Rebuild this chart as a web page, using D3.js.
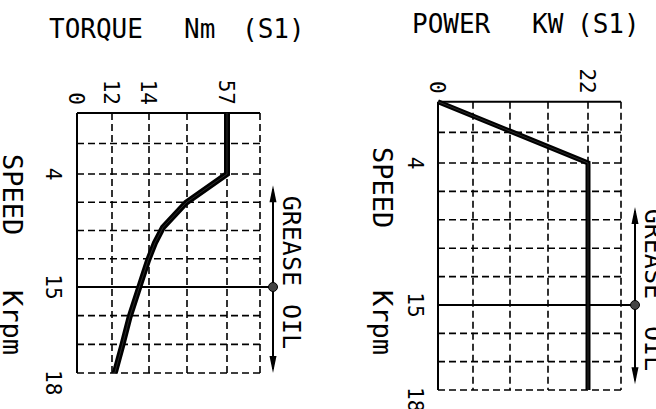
<!DOCTYPE html>
<html>
<head>
<meta charset="utf-8">
<script src="https://cdn.jsdelivr.net/npm/d3@7"></script>
<style>
body { margin: 0; background: #fff; }
svg { display: block; background: #fff; }
text { font-family: "DejaVu Sans Mono", "Liberation Mono", monospace; fill: #000; }
</style>
</head>
<body>
<svg id="chart" width="656" height="409"></svg>
<script>
// speed axis (Krpm), break points used by both panels
var speedTicks = [0, 4, 15, 18];
var speedLabels = [4, 15, 18];

// torque panel (Nm)
var torqueTicks = [0, 12, 14, 57];
var torqueSpeed = [0, 4, 6.8, 9.2, 10.7, 12.4, 14.6, 16.05, 17.05, 18];
var torqueValues = [57, 57, 34.4, 21.7, 17.3, 13.95, 13.55, 12.95, 12.55, 12.15];

// power panel (KW)
var powerTicks = [0, 22];
var powerSpeed = [0, 4, 18];
var powerValues = [0, 22, 22];

// grease / oil limit and arrow span (Krpm)
var greaseLimit = 15;
var torqueArrow = [5.1, 18];
var powerArrow = [7.4, 17.8];

var svg = d3.select("#chart");

// grid columns, same on both panels
var colOffsets = [0, 35, 72, 110, 150, 183];

drawPanel({
	x0: 77, w: 183,
	yRange: [113, 174, 287, 373],
	ticks: torqueTicks, tickOffsets: [0, 35, 72, 150],
	rows: [2, 4, 3],
	speed: torqueSpeed, vals: torqueValues, lineW: 6,
	arrow: torqueArrow, arrowX: 273,
	title: [["TORQUE", 49], ["Nm", 184], ["(S1)", 242]], titleY: 38,
	speedTitleX: 3, speedTitleY: [154, 290], speedLabelX: 46,
	greaseGap: [1, 17]
});

drawPanel({
	x0: 438, w: 183,
	yRange: [101.7, 163, 305, 390],
	ticks: powerTicks, tickOffsets: [0, 150],
	rows: [2, 5, 3],
	speed: powerSpeed, vals: powerValues, lineW: 5,
	arrow: powerArrow, arrowX: 635,
	title: [["POWER", 412], ["KW", 532], ["(S1)", 577]], titleY: 33,
	speedTitleX: 373, speedTitleY: [147, 290], speedLabelX: 408,
	greaseGap: [6, 21]
});

function rotText(g, x, y, str, anchor, size)
{
	return g.append("text")
		.attr("transform", "translate(" + x + "," + y + ") rotate(90)")
		.attr("text-anchor", anchor)
		.attr("font-size", size)
		.text(str);
}

function drawPanel(p)
{
	var g = svg.append("g");

	var y = d3.scaleLinear().domain(speedTicks).range(p.yRange);
	var x = d3.scaleLinear().domain(p.ticks)
		.range(p.tickOffsets.map(function(o) { return p.x0 + o; }));

	var top = y(0), bottom = y(18);

	// dashed rows: each speed segment split evenly
	var rowSpeeds = [];
	p.rows.forEach(function(n, i) {
		var a = speedTicks[i], b = speedTicks[i + 1];
		d3.range(1, n + 1).forEach(function(k) { rowSpeeds.push(a + (b - a) * k / n); });
	});

	g.selectAll(".row").data(rowSpeeds).enter().append("line")
		.attr("x1", p.x0).attr("x2", p.x0 + p.w)
		.attr("y1", y).attr("y2", y)
		.attr("stroke", "#000").attr("stroke-width", 1.6)
		.attr("stroke-dasharray", "7,4");

	g.selectAll(".col").data(colOffsets.slice(1)).enter().append("line")
		.attr("x1", function(d) { return p.x0 + d; })
		.attr("x2", function(d) { return p.x0 + d; })
		.attr("y1", top).attr("y2", bottom)
		.attr("stroke", "#000").attr("stroke-width", 1.6)
		.attr("stroke-dasharray", "7,4");

	// solid frame edges
	g.append("line").attr("x1", p.x0).attr("x2", p.x0 + p.w)
		.attr("y1", top).attr("y2", top)
		.attr("stroke", "#000").attr("stroke-width", 2);
	g.append("line").attr("x1", p.x0).attr("x2", p.x0)
		.attr("y1", top).attr("y2", bottom)
		.attr("stroke", "#000").attr("stroke-width", 2);

	// limit line
	var ly = y(greaseLimit);
	g.append("line").attr("x1", p.x0).attr("x2", p.arrowX)
		.attr("y1", ly).attr("y2", ly)
		.attr("stroke", "#000").attr("stroke-width", 2);

	// curve
	var pts = p.speed.map(function(s, i) { return [s, p.vals[i]]; });
	var line = d3.line()
		.x(function(d) { return x(d[1]); })
		.y(function(d) { return y(d[0]); });
	g.append("path").datum(pts)
		.attr("d", line)
		.attr("fill", "none").attr("stroke", "#000")
		.attr("stroke-width", p.lineW)
		.attr("stroke-linejoin", "miter");
	g.append("path").datum(pts)
		.attr("d", line)
		.attr("fill", "none").attr("stroke", "#777")
		.attr("stroke-width", 0.6)
		.attr("opacity", 0.6);

	// grease/oil arrow
	var a0 = y(p.arrow[0]), a1 = y(p.arrow[1]), ax = p.arrowX;
	g.append("line").attr("x1", ax).attr("x2", ax)
		.attr("y1", a0 + 4).attr("y2", a1 - 4)
		.attr("stroke", "#000").attr("stroke-width", 2);
	g.append("path")
		.attr("d", "M" + ax + "," + a0 + "L" + (ax + 3.5) + "," + (a0 + 17) + "L" + (ax - 3.5) + "," + (a0 + 17) + "Z")
		.attr("fill", "#000");
	g.append("path")
		.attr("d", "M" + ax + "," + a1 + "L" + (ax + 3.5) + "," + (a1 - 17) + "L" + (ax - 3.5) + "," + (a1 - 17) + "Z")
		.attr("fill", "#000");
	g.append("circle").attr("cx", ax).attr("cy", ly).attr("r", 4.5)
		.attr("fill", "#444").attr("stroke", "#000").attr("stroke-width", 1);

	rotText(g, ax + 10, ly - p.greaseGap[0], "GREASE", "end", 25);
	rotText(g, ax + 10, ly + p.greaseGap[1], "OIL", "start", 25);

	// value tick labels
	g.selectAll(".vt").data(p.ticks).enter().append("text")
		.attr("transform", function(d) { return "translate(" + x(d) + "," + (top - 8) + ") rotate(90)"; })
		.attr("text-anchor", "end")
		.attr("dy", "0.36em")
		.attr("font-size", 21)
		.text(function(d) { return d; });

	// speed tick labels
	g.selectAll(".st").data(speedLabels).enter().append("text")
		.attr("transform", function(d) {
			var yy = d == 18 ? y(d) - 3 : y(d);
			return "translate(" + p.speedLabelX + "," + yy + ") rotate(90)";
		})
		.attr("text-anchor", function(d) { return d == 18 ? "start" : "middle"; })
		.attr("font-size", 21)
		.text(function(d) { return d; });

	// axis titles
	rotText(g, p.speedTitleX, p.speedTitleY[0], "SPEED", "start", 27);
	rotText(g, p.speedTitleX, p.speedTitleY[1], "Krpm", "start", 27);

	g.selectAll(".title").data(p.title).enter().append("text")
		.attr("x", function(d) { return d[1]; })
		.attr("y", p.titleY)
		.attr("font-size", 26)
		.text(function(d) { return d[0]; });
}
</script>
</body>
</html>
